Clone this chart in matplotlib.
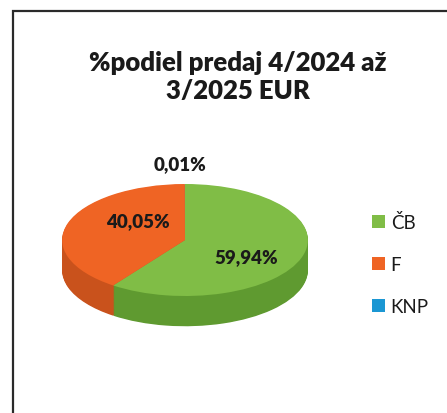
import matplotlib
matplotlib.use("Agg")
import matplotlib.pyplot as plt
from matplotlib.patches import Rectangle
import numpy as np

categories = ["ČB", "F", "KNP"]
values = [59.94, 40.05, 0.01]
title_text = "%podiel predaj 4/2024 až\n3/2025 EUR"

top_colors = ["#80bd46", "#ef6424", "#1b97d3"]
side_colors = ["#5f9a30", "#c9521c", "#167aab"]

W, H = 447, 414
fig = plt.figure(figsize=(W / 100, H / 100), dpi=100)
fig.patch.set_facecolor("white")
FONT = ["Lato", "DejaVu Sans"]

# frame
fig.add_artist(Rectangle((13 / W, -0.1), 1.2, 1 - 12 / H + 0.1, transform=fig.transFigure,
                         fill=False, edgecolor="#2a2a2a", linewidth=1.6, clip_on=False))

fig.text(0.5 * (88 + 387) / W, 1 - 77 / H, title_text, ha="center", va="center",
         fontsize=18.5, fontweight="heavy", family=FONT, color="#1a1a1a", linespacing=1.2)

# pie axes (pixel layout)
left, right, top, bottom = 40, 330, 150, 345
ax = fig.add_axes([left / W, 1 - bottom / H, (right - left) / W, (bottom - top) / H])
depth = 0.54
n_layers = 40
for k in range(n_layers):
    dy = -depth + depth * k / n_layers
    ax.pie(values, colors=side_colors, startangle=90, counterclock=False,
           center=(0, dy), radius=1.0, wedgeprops=dict(linewidth=0))
wedges, _ = ax.pie(values, colors=top_colors, startangle=90, counterclock=False,
                   center=(0, 0), radius=1.0, wedgeprops=dict(linewidth=0))
ax.set_aspect("auto")
ax.set_xlim(-1.18, 1.18)
ax.set_ylim(-1.857, 1.625)
ax.axis("off")

def fmt(v):
    return f"{v:.2f}%".replace(".", ",")

label_pos = {"ČB": (0.50, -0.30), "F": (-0.38, 0.34), "KNP": (-0.04, 1.36)}
for cat, v in zip(categories, values):
    x, y = label_pos[cat]
    ax.text(x, y, fmt(v), ha="center", va="center", fontsize=13.5, fontweight="heavy",
            family=FONT, color="#1a1a1a")

leg = fig.legend(wedges, categories, loc="center left", bbox_to_anchor=(372 / W, 1 - 265 / H),
                 frameon=False, borderaxespad=0, borderpad=0, handlelength=0.7, handleheight=0.7,
                 handletextpad=0.3, labelspacing=1.35, prop=dict(family=FONT, size=13.5))
for t in leg.get_texts():
    t.set_color("#1a1a1a")

fig.savefig("out.png", dpi=100, facecolor="white")
